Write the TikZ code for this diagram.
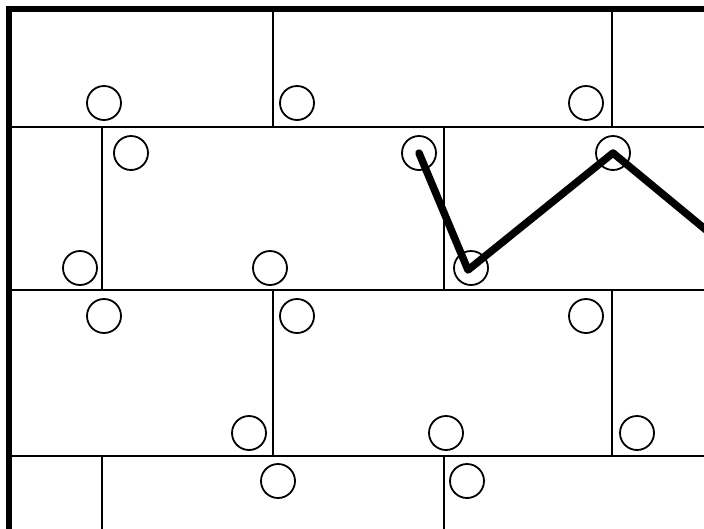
\documentclass[tikz,border=0pt]{standalone}
\begin{document}
\begin{tikzpicture}[x=1pt,y=-1pt,
  ring/.style={draw,circle,minimum size=34pt,inner sep=0pt,line width=1.8pt},
  grid/.style={line width=1.5pt},
  frame/.style={line width=5.5pt},
  route/.style={line width=7.5pt,line cap=round,line join=round}]
\useasboundingbox (0,0) rectangle (704,528);
\begin{scope}
\clip (0,0) rectangle (704,528);
\fill[white] (0,0) rectangle (704,528);
% horizontal lines
\draw[grid] (9,127) -- (710,127);
\draw[grid] (9,290) -- (710,290);
\draw[grid] (9,456) -- (710,456);
% vertical lines
\draw[grid] (273,9) -- (273,127);
\draw[grid] (612,9) -- (612,127);
\draw[grid] (102,127) -- (102,290);
\draw[grid] (444,127) -- (444,290);
\draw[grid] (273,290) -- (273,456);
\draw[grid] (612,290) -- (612,456);
\draw[grid] (102,456) -- (102,535);
\draw[grid] (444,456) -- (444,535);
% frame
\draw[frame] (9,535) -- (9,9) -- (710,9);
% circles
\node[ring] (a1) at (104,103) {};
\node[ring] (a2) at (297,103) {};
\node[ring] (a3) at (586,103) {};
\node[ring] (b1) at (131,153) {};
\node[ring] (b2) at (419,153) {};
\node[ring] (b3) at (613,153) {};
\node[ring] (c1) at (80,268) {};
\node[ring] (c2) at (270,268) {};
\node[ring] (c3) at (471,268) {};
\node[ring] (d1) at (104,316) {};
\node[ring] (d2) at (297,316) {};
\node[ring] (d3) at (586,316) {};
\node[ring] (e1) at (249,433) {};
\node[ring] (e2) at (446,433) {};
\node[ring] (e3) at (637,433) {};
\node[ring] (f1) at (278,481) {};
\node[ring] (f2) at (467,481) {};
\coordinate (out) at (740,258);
% route
\draw[route] (b2.center) -- (468,270) -- (b3.center) -- (out);
\end{scope}
\end{tikzpicture}
\end{document}
